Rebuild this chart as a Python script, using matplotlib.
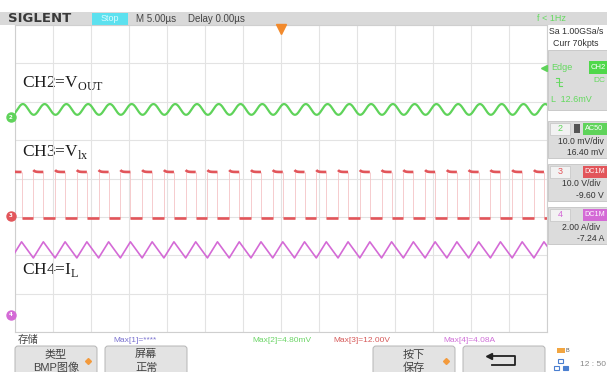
import numpy as np
import matplotlib.pyplot as plt
from matplotlib.patches import Rectangle, FancyBboxPatch

plt.rcParams['mathtext.fontset'] = 'custom'
plt.rcParams['mathtext.rm'] = 'Liberation Serif'

UI_FONT = ['Liberation Sans', 'Noto Sans CJK SC']

# ---- scope timebase / screen ----
time_per_div = 5.0      # us
n_hdiv, n_vdiv = 14, 8

# ---- CH3: switching node V_lx (levels in divisions) ----
sw_period = 2.864       # us
sw_duty = 0.46
sw_first_rise = 2.41    # us
lx_low, lx_high = -1.03, 0.17
lx_overshoot = 0.05

# ---- CH4: inductor current ----
il_trough, il_peak = -2.07, -1.65

# ---- CH2: output ripple ----
vout_mid, vout_amp = 1.80, 0.14
vout_lag = 0.52         # peak position inside one period

# ---- channel info ----
ch_names = ['2', '3', '4']
ch_colors = ['#5fd35a', '#e2555a', '#d46ad6']
ch_ground = [1.60, -0.97, -3.55]
ch_coupling = ['AC50', 'DC1M', 'DC1M']
ch_scale = ['10.0 mV/div', '10.0 V/div', '2.00 A/div']
ch_offset = ['16.40 mV', '-9.60 V', '-7.24 A']
trig_level = 2.88

max_labels = ['Max[1]=****', 'Max[2]=4.80mV', 'Max[3]=12.00V', 'Max[4]=4.08A']
max_colors = ['#7a72d0', '#6bd566', '#d65a5a', '#d070d8']

W, H = 607, 372
fig = plt.figure(figsize=(W / 100, H / 100), dpi=100)
fig.patch.set_facecolor('white')

# pixel-space layer for the scope UI
ui = fig.add_axes([0, 0, 1, 1], zorder=0)
ui.set_xlim(0, W)
ui.set_ylim(H, 0)
ui.axis('off')

# waveform area
gx0, gx1, gy0, gy1 = 15, 547, 25, 332
ax = fig.add_axes([gx0 / W, 1 - gy1 / H, (gx1 - gx0) / W, (gy1 - gy0) / H], zorder=2)
ax.set_facecolor('none')
t_end = n_hdiv * time_per_div
ax.set_xlim(0, t_end)
ax.set_ylim(-n_vdiv / 2, n_vdiv / 2)
ax.set_xticks(np.arange(0, t_end + 0.1, time_per_div))
ax.set_yticks(np.arange(-n_vdiv / 2, n_vdiv / 2 + 0.1, 1))
ax.tick_params(length=0, labelbottom=False, labelleft=False)
ax.grid(True, color='#e3e3e3', lw=0.8)
for s in ax.spines.values():
    s.set_color('#cfcfcf')
    s.set_linewidth(0.8)

# switching edges
rises = np.arange(sw_first_rise - sw_period, t_end + sw_period, sw_period)
falls = rises + sw_duty * sw_period

# CH3 square wave: thick flat parts, faint edges
ax.vlines(np.concatenate([rises, falls]), lx_low, lx_high, color='#f5c4c6', lw=0.6, zorder=3)
for r, f in zip(rises, falls):
    th = np.linspace(r, f, 20)
    ax.plot(th, lx_high + lx_overshoot * np.exp(-(th - r) / 0.2), color=ch_colors[1],
            lw=1.9, solid_capstyle='butt', zorder=4)
    ax.plot([f, r + sw_period], [lx_low, lx_low], color=ch_colors[1], lw=1.9,
            solid_capstyle='butt', zorder=4)

# CH4 triangle: rises while switch is high
tri_t = np.ravel(np.column_stack([rises, falls]))
tri_y = np.ravel(np.column_stack([np.full_like(rises, il_trough), np.full_like(falls, il_peak)]))
ax.plot(tri_t, tri_y, color=ch_colors[2], lw=1.2, zorder=4)

# CH2 ripple
tv = np.linspace(0, t_end, 2000)
ax.plot(tv, vout_mid + vout_amp * np.cos(2 * np.pi * (tv - rises[0] - vout_lag * sw_period) / sw_period),
        color=ch_colors[0], lw=1.6, zorder=4)

# ground markers on the left edge
for name, col, g in zip(ch_names, ch_colors, ch_ground):
    ax.plot([-0.55], [g], marker='o', ms=6.5, color=col, clip_on=False, zorder=5)
    ax.text(-0.55, g, name, fontsize=4, color='white', ha='center', va='center',
            fontweight='bold', clip_on=False, zorder=6)

# trigger position and level markers
ax.plot([t_end / 2], [3.9], marker='v', ms=7, color='#f28a2c', clip_on=False, zorder=5)
ax.plot([t_end - 0.35], [trig_level], marker='<', ms=5, color=ch_colors[0], clip_on=False, zorder=5)

# channel names
lab_kw = dict(fontsize=12.5, family='Liberation Serif', color='#1c1c1c', va='center')
ui.text(22, 83, r'CH2=V$_{\mathrm{OUT}}$', **lab_kw)
ui.text(22, 152, r'CH3=V$_{\mathrm{lx}}$', **lab_kw)
ui.text(22, 270, r'CH4=I$_{\mathrm{L}}$', **lab_kw)

# ---- top status bar ----
ui.add_patch(Rectangle((0, 12), W, 13, color='#d9d9d9', lw=0))
ui.text(8, 18.8, 'SIGLENT', family='DejaVu Sans', fontweight='bold', fontsize=9.5,
        color='#3a3a3a', va='center')
ui.add_patch(Rectangle((92, 12.5), 36, 12, color='#5ce1ef', lw=0))
ui.text(110, 18.8, 'Stop', family=UI_FONT, fontsize=6.5, color='#d9fbff', ha='center', va='center')
ui.text(136, 18.8, 'M 5.00\u00b5s', family=UI_FONT, fontsize=7, color='#444444', va='center')
ui.text(188, 18.8, 'Delay 0.00\u00b5s', family=UI_FONT, fontsize=7, color='#444444', va='center')
ui.text(537, 18.8, 'f < 1Hz', family=UI_FONT, fontsize=6.5, color='#63d95e', va='center')

# ---- right side panel ----
ui.text(549, 32, 'Sa 1.00GSa/s', family=UI_FONT, fontsize=6.3, color='#333333', va='center')
ui.text(553, 43, 'Curr 70kpts', family=UI_FONT, fontsize=6.3, color='#333333', va='center')

ui.add_patch(Rectangle((548, 50), 60, 60, fc='#dcdcdc', ec='#c4c4c4', lw=0.6))
ui.text(551, 67, 'Edge', family=UI_FONT, fontsize=6.5, color='#63d95e', va='center')
ui.add_patch(Rectangle((589, 61), 19, 13, color='#4fd84a', lw=0))
ui.text(590.5, 67.5, 'CH2', family=UI_FONT, fontsize=5.5, color='white', va='center')
ui.plot([556, 559, 559, 562], [78, 78, 86, 86], color='#63d95e', lw=0.8)
ui.plot([556, 562], [82, 82], color='#63d95e', lw=0.6)
ui.text(593, 81, 'DC', family=UI_FONT, fontsize=6, color='#63d95e', va='center')
ui.text(551, 99, 'L  12.6mV', family=UI_FONT, fontsize=6.5, color='#63d95e', va='center')

box_tops = [121, 164, 207]
for top, name, col, cpl, sc, off in zip(box_tops, ch_names, ch_colors, ch_coupling, ch_scale, ch_offset):
    ui.add_patch(Rectangle((548, top), 60, 37, fc='#dcdcdc', ec='#c4c4c4', lw=0.6))
    ui.add_patch(Rectangle((550, top + 1.5), 20, 12, fc='#f2f2f2', ec='#c4c4c4', lw=0.5))
    ui.text(560, top + 7.5, name, family=UI_FONT, fontsize=6.5, color=col, ha='center', va='center')
    if name == '2':
        ui.add_patch(Rectangle((574, top + 3), 6, 9, color='#555555', lw=0))
    ui.add_patch(Rectangle((583, top + 1.5), 25, 12, color=col, lw=0))
    ui.text(584.5, top + 7.5, cpl, family=UI_FONT, fontsize=5.2, color='white', va='center')
    ui.text(581, top + 20, sc, family=UI_FONT, fontsize=6.2, color='#333333', ha='center', va='center')
    ui.text(604, top + 31.5, off, family=UI_FONT, fontsize=6.2, color='#333333', ha='right', va='center')

# ---- bottom menu ----
ui.text(18, 340, '存储', family=UI_FONT, fontsize=7.5, color='#444444', va='center')
for x, lab, col in zip([113, 252, 333, 443], max_labels, max_colors):
    ui.text(x, 340, lab, family=UI_FONT, fontsize=6, color=col, va='center')

buttons = [(15, '类型', 'BMP图像', True), (105, '屏幕', '正常', False),
           (373, '按下', '保存', True), (463, '', '', False)]
for x, l1, l2, dot in buttons:
    ui.add_patch(FancyBboxPatch((x, 346), 82, 30, boxstyle='round,pad=0,rounding_size=3',
                                fc='#e3e3e3', ec='#b5b5b5', lw=0.7))
    ui.text(x + 41, 354.5, l1, family=UI_FONT, fontsize=8, color='#444444', ha='center', va='center')
    ui.text(x + 41, 367.5, l2, family=UI_FONT, fontsize=8, color='#444444', ha='center', va='center')
    if dot:
        ui.plot([x + 73], [361], marker='D', ms=3, color='#f39a3c')

# return arrow
ui.plot([492, 515, 515, 492], [356, 356, 365, 365], color='#222222', lw=1.3)
ui.plot([489], [356], marker='<', ms=5, color='#222222')

# status icons
ui.add_patch(Rectangle((557, 348), 8, 5, color='#f2a540', lw=0))
ui.text(566, 350.5, 'B', family=UI_FONT, fontsize=4, color='#555555', va='center')
ui.add_patch(Rectangle((558, 359), 5, 4, fc='none', ec='#4a7fd0', lw=0.8))
ui.add_patch(Rectangle((554, 366), 5, 4, fc='none', ec='#4a7fd0', lw=0.8))
ui.add_patch(Rectangle((563, 366), 5, 4, fc='#4a7fd0', ec='#4a7fd0', lw=0.8))
ui.text(580, 365, '12 : 50', family=UI_FONT, fontsize=6, color='#888888', va='center')

fig.savefig('out.png', dpi=100)
